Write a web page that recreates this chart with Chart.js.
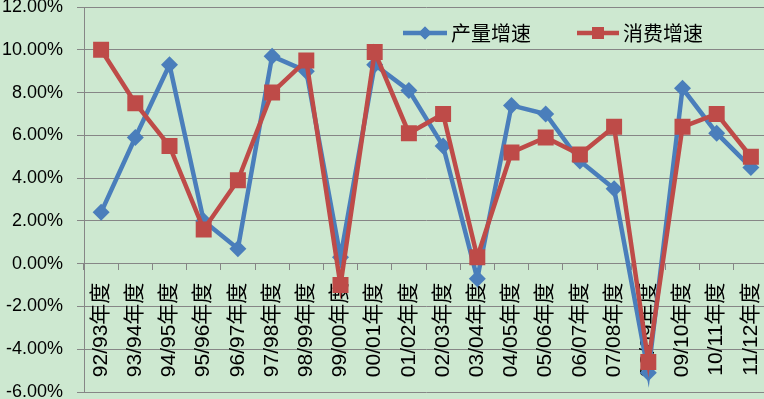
<!DOCTYPE html>
<html>
<head>
<meta charset="utf-8">
<script src="https://cdn.jsdelivr.net/npm/chart.js@4/dist/chart.umd.min.js"></script>
<style>
    html, body { margin: 0; padding: 0; overflow: hidden; background: #cde8d0; }
    canvas { display: block; }
</style>
</head>
<body>
<canvas id="myChart" width="768" height="399"></canvas>
<script>
const years = ['92/93年度', '93/94年度', '94/95年度', '95/96年度', '96/97年度', '97/98年度', '98/99年度',
    '99/00年度', '00/01年度', '01/02年度', '02/03年度', '03/04年度', '04/05年度', '05/06年度',
    '06/07年度', '07/08年度', '08/09年度', '09/10年度', '10/11年度', '11/12年度'];
const outputGrowth = [2.4, 5.9, 9.3, 2.0, 0.7, 9.7, 9.0, 0.3, 9.3, 8.1, 5.5, -0.7, 7.4, 7.0, 4.8, 3.5, -5.1, 8.2, 6.1, 4.5];
const consumeGrowth = [10.0, 7.5, 5.5, 1.6, 3.9, 8.0, 9.5, -1.0, 9.9, 6.1, 7.0, 0.3, 5.2, 5.9, 5.1, 6.4, -4.6, 6.4, 7.0, 5.0];
const seriesNames = ['产量增速', '消费增速'];

const blue = '#4a7ebb';
const red = '#be4b48';
const gridGray = '#868686';
const cjkFont = '"Liberation Sans", "Noto Sans CJK SC", sans-serif';

// legend sits inside the plot, so draw it by hand
const innerLegend = {
    id: 'innerLegend',
    afterDraw(chart) {
        const ctx = chart.ctx;
        const y = 33;
        const items = [
            {x: 403, w: 44, ds: chart.data.datasets[0], style: 'rectRot', r: 6.5},
            {x: 577, w: 42, ds: chart.data.datasets[1], style: 'rect', r: 8.5}
        ];
        ctx.save();
        items.forEach(it => {
            ctx.strokeStyle = it.ds.borderColor;
            ctx.lineWidth = 4.5;
            ctx.beginPath();
            ctx.moveTo(it.x, y);
            ctx.lineTo(it.x + it.w, y);
            ctx.stroke();
            ctx.fillStyle = it.ds.borderColor;
            Chart.helpers.drawPoint(ctx, {pointStyle: it.style, radius: it.r, borderWidth: 0}, it.x + it.w / 2, y);
            ctx.fill();
            ctx.fillStyle = '#000';
            ctx.font = '20px "Noto Sans CJK SC"';
            ctx.textBaseline = 'middle';
            ctx.fillText(it.ds.label, it.x + it.w + 4, y);
        });
        ctx.restore();
    }
};

const ctx = document.getElementById('myChart').getContext('2d');
const myChart = new Chart(ctx, {
    type: 'line',
    data: {
        labels: years,
        datasets: [{
            label: seriesNames[0],
            data: outputGrowth,
            borderColor: blue,
            backgroundColor: blue,
            borderWidth: 4.5,
            pointStyle: 'rectRot',
            pointRadius: 8.5,
            pointHoverRadius: 8.5,
            pointBorderWidth: 0,
            order: 1
        }, {
            label: seriesNames[1],
            data: consumeGrowth,
            borderColor: red,
            backgroundColor: red,
            borderWidth: 4.5,
            pointStyle: 'rect',
            pointRadius: 11.3,
            pointHoverRadius: 11.3,
            pointBorderWidth: 0,
            order: 0
        }]
    },
    options: {
        responsive: false,
        animation: false,
        layout: { autoPadding: false, padding: { top: 7, bottom: 7, left: 0, right: 0 } },
        plugins: { legend: { display: false }, tooltip: { enabled: false } },
        scales: {
            x: {
                position: { y: 0 },
                offset: true,
                grid: { offset: true, drawOnChartArea: false, drawTicks: true, tickLength: 6, color: gridGray },
                border: { color: gridGray, width: 1 },
                ticks: {
                    autoSkip: false,
                    minRotation: 90,
                    maxRotation: 90,
                    padding: 13,
                    color: '#000',
                    font: { family: cjkFont, size: 21 }
                },
                afterFit: s => { s.height = 0; s.paddingLeft = 0; s.paddingRight = 0; }
            },
            y: {
                min: -6,
                max: 12,
                ticks: {
                    stepSize: 2,
                    padding: 14,
                    color: '#000',
                    font: { family: '"Liberation Sans"', size: 18 },
                    callback: v => v.toFixed(2) + '%'
                },
                grid: { color: gridGray, tickLength: 7 },
                border: { color: gridGray, width: 1 },
                afterFit: s => { s.width = 84; s.paddingTop = 0; s.paddingBottom = 0; }
            }
        }
    },
    plugins: [innerLegend]
});
</script>
</body>
</html>
